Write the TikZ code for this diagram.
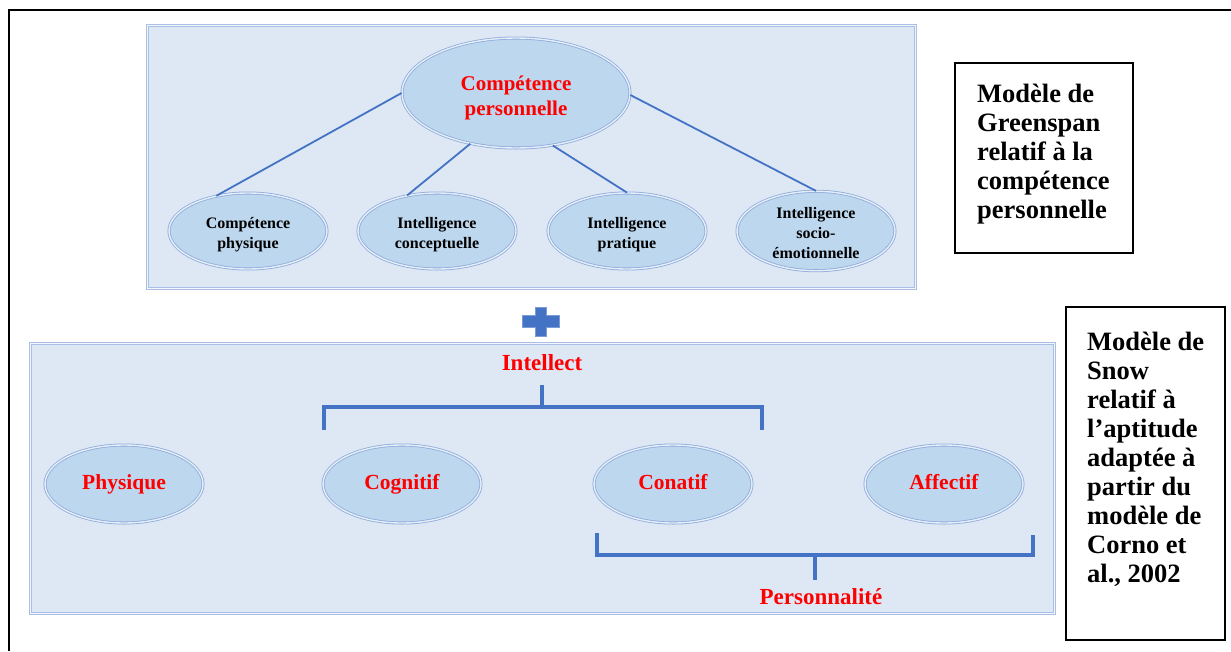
\documentclass[tikz,border=0pt]{standalone}
\usepackage{fontspec}
\setmainfont{Liberation Serif}
\usetikzlibrary{shapes.geometric}
\definecolor{boxfill}{HTML}{DEE8F5}
\definecolor{boxline}{HTML}{A9BFE6}
\definecolor{ellfill}{HTML}{BDD7EE}
\definecolor{ellline}{HTML}{8FAADC}
\definecolor{linkblue}{HTML}{4472C4}
\definecolor{labelred}{HTML}{FF0000}
\newcommand{\lowr}[1]{\rule{0pt}{#1}}
\begin{document}
\begin{tikzpicture}[x=1pt,y=-1pt,
  panel/.style={fill=boxfill, draw=boxline, line width=0.9pt, double=boxfill!40!white, double distance=1.6pt},
  bubble/.style={ellipse, fill=ellfill, draw=ellline, line width=0.8pt, double=ellfill!40!white, double distance=1.4pt, inner sep=0pt, align=center},
  bigbubble/.style={bubble, minimum width=228pt, minimum height=110pt, text=labelred, font=\fontsize{21}{25}\selectfont\bfseries},
  smallbubble/.style={bubble, minimum width=158pt, minimum height=76pt, text=black, font=\fontsize{16}{20}\selectfont\bfseries},
  aptbubble/.style={bubble, minimum width=158pt, minimum height=78pt, text height=15pt, text depth=5pt, text=labelred, font=\fontsize{21.5}{25}\selectfont\bfseries},
  link/.style={draw=linkblue, line width=1.8pt},
  bracketline/.style={draw=linkblue, line width=4pt},
  grouplabel/.style={text=labelred, inner sep=0pt, font=\fontsize{23}{27}\selectfont\bfseries},
  frame/.style={draw=black, line width=1.5pt, inner sep=0pt},
  frametext/.style={anchor=north west, inner sep=0pt, align=left, text=black, font=\fontsize{26.5}{29.1}\selectfont\bfseries}
]
\useasboundingbox (0,0) rectangle (1231,651);
\fill[white] (0,0) rectangle (1231,651);
% outer frame
\draw[line width=2pt] (1231,10) -- (9,10) -- (9,651);

% panels
\draw[panel] (147.5,25.5) rectangle (915.5,288.5);
\draw[panel] (30.5,343.5) rectangle (1054.5,613.5);

% Greenspan model
\node[bigbubble] (cp) at (516,93) {\lowr{25pt}Compétence\\personnelle};
\node[smallbubble] (phys) at (248,231) {\lowr{19pt}Compétence\\physique};
\node[smallbubble] (concept) at (437,231) {\lowr{19pt}Intelligence\\conceptuelle};
\node[smallbubble] (prat) at (627,231) {\lowr{19pt}Intelligence\\pratique};
\node[smallbubble] (socio) at (816,231) {\lowr{16pt}Intelligence\\socio-\\émotionnelle};
\draw[link] (cp.180) -- (phys.132);
\draw[link] (cp.228) -- (concept.130);
\draw[link] (cp.305) -- (prat.90);
\draw[link] (cp.359) -- (socio.90);

% plus sign
\fill[linkblue, draw=linkblue!70!white, line width=0.6pt]
  (535,307) -- (546,307) -- (546,315) -- (559,315) -- (559,327) -- (546,327)
  -- (546,336) -- (535,336) -- (535,327) -- (522,327) -- (522,315) -- (535,315) -- cycle;

% Snow model
\node[aptbubble] (physique) at (124,484) {Physique};
\node[aptbubble] (cognitif) at (402,484) {Cognitif};
\node[aptbubble] (conatif) at (673,484) {Conatif};
\node[aptbubble] (affectif) at (944,484) {Affectif};

\node[grouplabel] (intellect) at (542,363) {Intellect};
\node[grouplabel] (perso) at (821,597) {Personnalité};

\coordinate (i-stem) at (542,385);
\coordinate (i-mid) at (542,407);
\coordinate (i-left) at (324,430);
\coordinate (i-right) at (762,430);
\draw[bracketline] (i-left) |- (i-mid) -| (i-right);
\draw[bracketline] (i-stem) -- (i-mid);

\coordinate (p-stem) at (815,580);
\coordinate (p-mid) at (815,555);
\coordinate (p-left) at (597,533);
\coordinate (p-right) at (1033,535);
\draw[bracketline] (p-left) |- (p-mid) -| (p-right);
\draw[bracketline] (p-stem) -- (p-mid);

% side captions
\node[frame, minimum width=178pt, minimum height=190pt] (gbox) at (1044,158) {};
\node[frametext] (gtext) at (977,83.5) {Modèle de\\Greenspan\\relatif à la\\compétence\\personnelle};
\node[frame, minimum width=159pt, minimum height=333pt] (sbox) at (1145.5,473.5) {};
\node[frametext] (stext) at (1087,331.5) {Modèle de\\Snow\\relatif à\\l’aptitude\\adaptée à\\partir du\\modèle de\\Corno et\\al., 2002};
\end{tikzpicture}
\end{document}
